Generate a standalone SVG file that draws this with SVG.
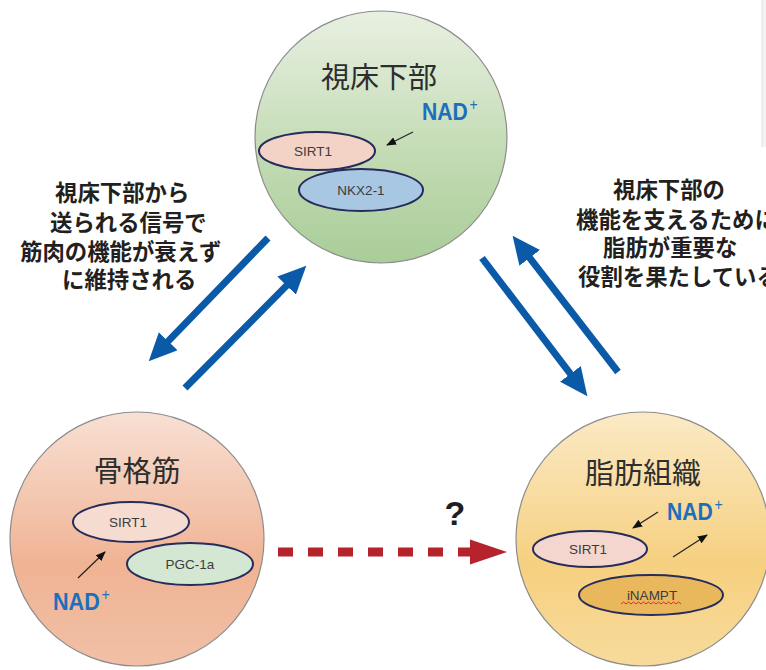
<svg xmlns="http://www.w3.org/2000/svg" width="766" height="670" viewBox="0 0 766 670">
<style>
.circ{stroke:#8c8c8c;stroke-width:1.2}
.title{font-family:"Noto Sans CJK JP","Noto Sans CJK SC",sans-serif;font-size:29px;fill:#2e2e2e;text-anchor:middle}
.note{font-family:"Noto Sans CJK JP","Noto Sans CJK SC",sans-serif;font-size:22.4px;font-weight:700;fill:#231f20}
.ell{stroke:#262c5c;stroke-width:2}
.lbl{font-family:"Liberation Sans","DejaVu Sans",sans-serif;font-size:13.5px;fill:#3c3c3c;text-anchor:middle}
.nad{font-family:"Liberation Sans",Arial,sans-serif;font-weight:700;font-size:24px;fill:#1c6fbd}
.sup{font-weight:400;font-size:16px}
.blue{stroke:#0b5aa8;stroke-width:7;fill:none;marker-end:url(#bh)}
.small{stroke:#222;stroke-width:1.2;fill:none;marker-end:url(#sh)}
</style>
<defs>
<linearGradient id="gG" x1="0" y1="0" x2="0" y2="1"><stop offset="0" stop-color="#e8f0e1"/><stop offset="0.6" stop-color="#c1dab2"/><stop offset="1" stop-color="#a9cd98"/></linearGradient>
<linearGradient id="gP" x1="0" y1="0" x2="0" y2="1"><stop offset="0" stop-color="#f8e0d4"/><stop offset="0.6" stop-color="#f0b394"/><stop offset="1" stop-color="#f1c0a6"/></linearGradient>
<linearGradient id="gY" x1="0" y1="0" x2="0" y2="1"><stop offset="0" stop-color="#fbeac6"/><stop offset="0.6" stop-color="#f6d080"/><stop offset="1" stop-color="#f7db9c"/></linearGradient>
<marker id="bh" viewBox="0 0 28 26" refX="1" refY="13" markerWidth="28" markerHeight="26" markerUnits="userSpaceOnUse" orient="auto"><path d="M0,0 L28,13 L0,26 Z" fill="#0b5aa8"/></marker>
<marker id="sh" viewBox="0 0 10 8" refX="9" refY="4" markerWidth="10" markerHeight="8" markerUnits="userSpaceOnUse" orient="auto"><path d="M0,0 L10,4 L0,8 Z" fill="#111"/></marker>
</defs>
<rect width="766" height="670" fill="#ffffff"/>
<rect x="762" y="0" width="4" height="147" fill="#f3f3f3"/>
<line x1="762" y1="0" x2="762" y2="147" stroke="#e2e2e2" stroke-width="1"/>

<g id="hypothalamus">
<circle class="circ" cx="381" cy="137" r="126" fill="url(#gG)"/>
<text class="title" x="379" y="88">視床下部</text>
<text class="nad" transform="translate(422,120) scale(0.88,1)">NAD<tspan class="sup" dx="2" dy="-10">+</tspan></text>
<line class="small" x1="413" y1="132" x2="387" y2="145"/>
<ellipse class="ell" cx="317" cy="151" rx="58" ry="19" fill="#f3d3c6"/>
<text class="lbl" x="313" y="156">SIRT1</text>
<ellipse class="ell" cx="361" cy="190" rx="62" ry="21" fill="#a8c7e2"/>
<text class="lbl" x="361" y="195">NKX2-1</text>
</g>

<g id="skeletal-muscle">
<circle class="circ" cx="137" cy="539" r="127" fill="url(#gP)"/>
<text class="title" x="137" y="482">骨格筋</text>
<ellipse class="ell" cx="131" cy="522" rx="58" ry="20" fill="#f5dbd0"/>
<text class="lbl" x="128" y="527">SIRT1</text>
<ellipse class="ell" cx="190" cy="564" rx="63" ry="21" fill="#d3e7d2"/>
<text class="lbl" x="190" y="569">PGC-1a</text>
<line class="small" x1="78" y1="578" x2="105" y2="552"/>
<text class="nad" transform="translate(53,610) scale(0.9,1)">NAD<tspan class="sup" dx="2" dy="-10">+</tspan></text>
</g>

<g id="adipose">
<circle class="circ" cx="643" cy="539" r="127" fill="url(#gY)"/>
<text class="title" x="643" y="484">脂肪組織</text>
<text class="nad" transform="translate(667,520) scale(0.88,1)">NAD<tspan class="sup" dx="2" dy="-10">+</tspan></text>
<line class="small" x1="658" y1="512" x2="633" y2="528"/>
<line class="small" x1="673" y1="557" x2="707" y2="535"/>
<ellipse class="ell" cx="590" cy="549" rx="57" ry="18" fill="#f4d6cf"/>
<text class="lbl" x="588" y="554">SIRT1</text>
<ellipse class="ell" cx="651" cy="595" rx="72" ry="20" fill="#eab85c"/>
<text class="lbl" x="652" y="600">iNAMPT</text>
<path d="M621,604 l2.5,-2 l2.5,2 l2.5,-2 l2.5,2 l2.5,-2 l2.5,2 l2.5,-2 l2.5,2 l2.5,-2 l2.5,2 l2.5,-2 l2.5,2 l2.5,-2 l2.5,2 l2.5,-2 l2.5,2 l2.5,-2 l2.5,2 l2.5,-2 l2.5,2 l2.5,-2 l2.5,2 l2.5,-2 l2.5,2" fill="none" stroke="#e02828" stroke-width="1"/>
</g>

<g id="connectors">
<line class="blue" x1="268" y1="238" x2="167.5" y2="341.9"/>
<line class="blue" x1="185" y1="388" x2="287.3" y2="284.9"/>
<line class="blue" x1="482" y1="258" x2="571" y2="374.7"/>
<line class="blue" x1="618" y1="372" x2="529.1" y2="257.1"/>
<line x1="278" y1="552" x2="472" y2="552" stroke="#b5242d" stroke-width="9" stroke-dasharray="15 15"/>
<polygon points="470,539.5 507,552 470,564.5" fill="#b5242d"/>
</g>

<g id="labels">
<text x="455" y="525" font-family="'Liberation Sans',Arial,sans-serif" font-size="34" font-weight="700" fill="#1e1e1e" text-anchor="middle">?</text>
<text class="note" x="55" y="201">視床下部から</text>
<text class="note" x="50" y="231">送られる信号で</text>
<text class="note" x="20" y="260">筋肉の機能が衰えず</text>
<text class="note" x="62" y="288">に維持される</text>
<text class="note" x="613" y="198">視床下部の</text>
<text class="note" x="576" y="228">機能を支えるために</text>
<text class="note" x="603" y="256">脂肪が重要な</text>
<text class="note" x="578" y="285">役割を果たしている</text>
</g>
</svg>
